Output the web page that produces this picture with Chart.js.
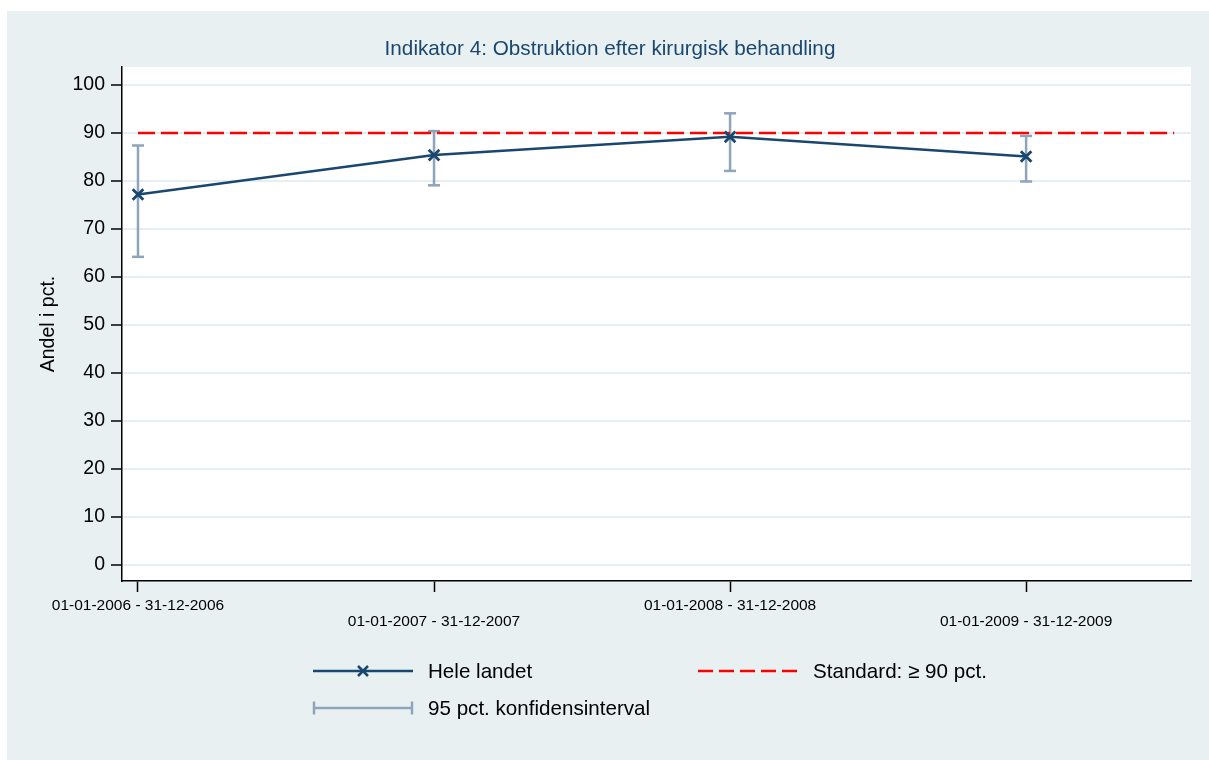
<!DOCTYPE html>
<html lang="da">
<head>
<meta charset="utf-8">
<title>Indikator 4: Obstruktion efter kirurgisk behandling</title>
<script src="https://cdn.jsdelivr.net/npm/chart.js@4/dist/chart.umd.min.js"></script>
<style>
  html, body { margin: 0; padding: 0; background: #ffffff; }
  #panel { position: absolute; left: 7px; top: 11px; width: 1202px; height: 749px; background: #e8f0f2; }
  #c { display: block; }
</style>
</head>
<body>
<div id="panel"><canvas id="c" width="1202" height="749"></canvas></div>
<script>
// Periods and results
const categories = [
  '01-01-2006 - 31-12-2006',
  '01-01-2007 - 31-12-2007',
  '01-01-2008 - 31-12-2008',
  '01-01-2009 - 31-12-2009'
];
const heleLandet = [77.2, 85.4, 89.2, 85.1];   // Andel i pct.
const ciLower    = [64.2, 79.1, 82.1, 79.9];   // 95 pct. konfidensinterval, nedre
const ciUpper    = [87.4, 90.4, 94.1, 89.4];   // 95 pct. konfidensinterval, øvre
const standard   = 90;                          // Standard: >= 90 pct.
const standardSpan = [1, 4.5];                  // x-range of the standard line
const yTicks = [0, 10, 20, 30, 40, 50, 60, 70, 80, 90, 100];
const xTicks = [1, 2, 3, 4];

const FONT = '"Liberation Sans", Arial, Helvetica, sans-serif';
const NAVY = '#1a476f';
const CI_COLOR = '#8ea4ba';
const RED = '#ff0000';
const GRID = '#e6eef1';

const mainPoints = heleLandet.map((v, i) => ({ x: xTicks[i], y: v }));
const ciPoints = [];
ciLower.forEach((lo, i) => {
  ciPoints.push({ x: xTicks[i], y: lo });
  ciPoints.push({ x: xTicks[i], y: ciUpper[i] });
  ciPoints.push({ x: xTicks[i], y: null });
});
const standardPoints = standardSpan.map(x => ({ x: x, y: standard }));

// White plot region
const plotBackground = {
  id: 'plotBackground',
  beforeDraw(chart) {
    const { ctx, chartArea: a } = chart;
    ctx.save();
    ctx.fillStyle = '#ffffff';
    ctx.fillRect(a.left, a.top, a.right - a.left, a.bottom - a.top);
    ctx.restore();
  }
};

// Title and legend
const panelText = {
  id: 'panelText',
  afterDraw(chart) {
    const ctx = chart.ctx;
    ctx.save();
    ctx.textBaseline = 'middle';

    ctx.fillStyle = NAVY;
    ctx.textAlign = 'center';
    ctx.font = '20.7px ' + FONT;
    ctx.fillText('Indikator 4: Obstruktion efter kirurgisk behandling', 603, 38);

    ctx.textAlign = 'left';
    ctx.font = '20.6px ' + FONT;
    ctx.fillStyle = '#000000';

    // Hele landet
    const y1 = 660;
    ctx.strokeStyle = NAVY;
    ctx.lineWidth = 2.5;
    ctx.setLineDash([]);
    ctx.beginPath(); ctx.moveTo(306, y1); ctx.lineTo(406, y1); ctx.stroke();
    ctx.beginPath();
    ctx.moveTo(356 - 5, y1 - 5); ctx.lineTo(356 + 5, y1 + 5);
    ctx.moveTo(356 - 5, y1 + 5); ctx.lineTo(356 + 5, y1 - 5);
    ctx.stroke();
    ctx.fillText('Hele landet', 421, y1 + 1);

    // Standard
    ctx.strokeStyle = RED;
    ctx.setLineDash([15, 6]);
    ctx.beginPath(); ctx.moveTo(691, y1); ctx.lineTo(790, y1); ctx.stroke();
    ctx.setLineDash([]);
    ctx.fillText('Standard: \u2265 90 pct.', 806, y1 + 1);

    // Konfidensinterval
    const y2 = 697;
    ctx.strokeStyle = CI_COLOR;
    ctx.lineWidth = 2.5;
    ctx.beginPath();
    ctx.moveTo(306, y2); ctx.lineTo(406, y2);
    ctx.moveTo(307, y2 - 6.5); ctx.lineTo(307, y2 + 6.5);
    ctx.moveTo(405, y2 - 6.5); ctx.lineTo(405, y2 + 6.5);
    ctx.stroke();
    ctx.fillText('95 pct. konfidensinterval', 421, y2 + 1);

    ctx.restore();
  }
};

new Chart(document.getElementById('c'), {
  type: 'line',
  data: {
    datasets: [
      {
        label: 'Hele landet',
        data: mainPoints,
        borderColor: NAVY,
        borderWidth: 2.5,
        pointStyle: 'crossRot',
        pointRadius: 7.5,
        pointBorderWidth: 2.8,
        pointBorderColor: NAVY,
        fill: false,
        tension: 0,
        order: 0
      },
      {
        label: 'Standard: \u2265 90 pct.',
        data: standardPoints,
        borderColor: RED,
        borderWidth: 2.5,
        borderDash: [17, 6],
        pointRadius: 0,
        fill: false,
        order: 1
      },
      {
        label: '95 pct. konfidensinterval',
        data: ciPoints,
        borderColor: CI_COLOR,
        borderWidth: 2.5,
        pointStyle: 'line',
        pointRadius: 6,
        pointBorderWidth: 2.5,
        pointBorderColor: CI_COLOR,
        spanGaps: false,
        fill: false,
        order: 2
      }
    ]
  },
  options: {
    responsive: false,
    animation: false,
    devicePixelRatio: 1,
    layout: { padding: { top: 56, right: 18, left: 0, bottom: 0 } },
    plugins: {
      legend: { display: false },
      title: { display: false },
      tooltip: { enabled: false }
    },
    scales: {
      x: {
        type: 'linear',
        min: 0.946,
        max: 4.557,
        afterBuildTicks(scale) { scale.ticks = xTicks.map(v => ({ value: v })); },
        afterFit(scale) { scale.height = 179; },
        border: { color: '#000000', width: 1.5 },
        grid: { drawOnChartArea: false, drawTicks: true, tickLength: 11, tickColor: '#000000', tickWidth: 1.5 },
        ticks: {
          autoSkip: false,
          maxRotation: 0,
          minRotation: 0,
          padding: 6,
          color: '#000000',
          font: { family: FONT, size: 15.5, lineHeight: 16 / 15.5 },
          callback(value, index) {
            const label = categories[index];
            return index % 2 === 1 ? ['', label] : label;
          }
        }
      },
      y: {
        type: 'linear',
        min: -3.33,
        max: 103.75,
        afterBuildTicks(scale) { scale.ticks = yTicks.map(v => ({ value: v })); },
        afterFit(scale) { scale.width = 115; },
        border: { color: '#000000', width: 1.5 },
        grid: { color: GRID, lineWidth: 2, drawTicks: true, tickLength: 11, tickColor: '#000000', tickWidth: 1.5 },
        ticks: {
          padding: 6,
          color: '#000000',
          font: { family: FONT, size: 19.5 }
        },
        title: {
          display: true,
          text: 'Andel i pct.',
          color: '#000000',
          font: { family: FONT, size: 19.5 },
          padding: { top: 30, bottom: 0 }
        }
      }
    }
  },
  plugins: [plotBackground, panelText]
});
</script>
</body>
</html>
